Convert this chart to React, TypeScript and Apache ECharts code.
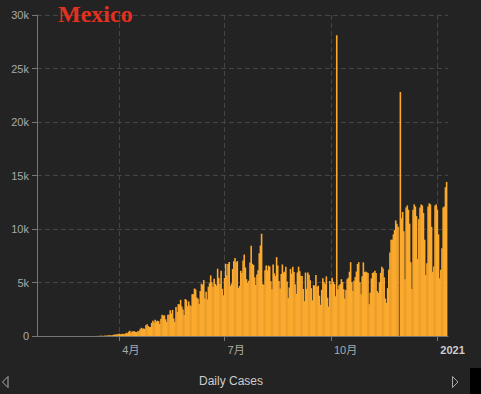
import React, { useEffect, useRef } from 'react';
import * as echarts from 'echarts';

const titleText = 'Mexico';
const seriesName = 'Daily Cases';
const firstDay = [2020, 0, 22];

const jan2020 = [0, 0, 0, 0, 0, 0, 0, 0, 0, 0, 0];
const feb2020 = [0, 0, 0, 0, 0, 0, 0, 0, 0, 0, 0, 0, 0, 0, 0, 0, 0, 0, 0, 0, 0, 0, 0, 0, 0, 0, 0, 1, 3];
const mar2020 = [1, 0, 0, 0, 0, 2, 0, 1, 0, 0, 4, 4, 11, 15, 12, 29, 11, 26, 46, 39, 48, 64, 65, 51, 68, 110, 131, 132, 168, 155, 216];
const apr2020 = [163, 178, 202, 188, 202, 296, 253, 396, 491, 328, 415, 441, 442, 385, 353, 440, 457, 621, 764, 683, 709, 660, 996, 1089, 928, 835, 852, 1223, 1425, 1239];
const may2020 = [1515, 1349, 1434, 1383, 1120, 1609, 1982, 1906, 1938, 1562, 1305, 1997, 1992, 2409, 2112, 2437, 1642, 1305, 2713, 2248, 2973, 2960, 3377, 2764, 2485, 1957, 3455, 3377, 2790, 3227, 2885];
const jun2020 = [2771, 3891, 3912, 4442, 4346, 3593, 3484, 2999, 4199, 4883, 4790, 5222, 3494, 4147, 3427, 4599, 4930, 5662, 5030, 4577, 5343, 4866, 4714, 6288, 5437, 4890, 6104, 4410, 3805, 5432];
const jul2020 = [6741, 5681, 6740, 6914, 4683, 4902, 6258, 6995, 7280, 6891, 7000, 4482, 4685, 6094, 5880, 7051, 7615, 6406, 5311, 4973, 5172, 6859, 8438, 6751, 6637, 5480, 4767, 5752, 6148, 7730, 8458];
const aug2020 = [9556, 4853, 4767, 6148, 6590, 6139, 6590, 6495, 5106, 4376, 6686, 5858, 5618, 7371, 6590, 5132, 4448, 5792, 6686, 5937, 6017, 6482, 5094, 3541, 4540, 6277, 5824, 6482, 5976, 4837, 3948];
const sep2020 = [5937, 6476, 6065, 5622, 5607, 4391, 3256, 5930, 4406, 5935, 5732, 5215, 4474, 3335, 4771, 4683, 5708, 4589, 4700, 3767, 2917, 4317, 5408, 5053, 4851, 5573, 3570, 2751, 5141, 4818];
const oct2020 = [5447, 5068, 4860, 3712, 28115, 4338, 4722, 4850, 5311, 5055, 4376, 3500, 4295, 5306, 5447, 6005, 6900, 5035, 4206, 5172, 5514, 6025, 6731, 6900, 5025, 3900, 5595, 6880, 5975, 6025, 5954];
const nov2020 = [5887, 2977, 4046, 5379, 5901, 5941, 6093, 5887, 4200, 4024, 5027, 5901, 6477, 6310, 5500, 3500, 3100, 4472, 6200, 7800, 9000, 9000, 9500, 9900, 10800, 10500, 10200, 0, 22800, 11000];
const dec2020 = [11600, 9800, 5300, 12000, 12200, 11800, 10500, 6900, 4400, 11800, 12300, 12100, 11200, 7200, 10900, 12000, 12300, 12200, 11500, 9000, 5700, 6800, 12100, 12400, 12300, 10200, 6000, 6500, 12200, 12300, 11800];
const jan2021 = [9500, 5400, 6200, 8200, 12000, 12100, 13900, 14400];

const dailyCases = [
  ...jan2020, ...feb2020, ...mar2020, ...apr2020, ...may2020, ...jun2020,
  ...jul2020, ...aug2020, ...sep2020, ...oct2020, ...nov2020, ...dec2020, ...jan2021,
];

const FONT = '"Liberation Sans", "Noto Sans CJK SC", sans-serif';

export default function App() {
  const ref = useRef<HTMLDivElement>(null);
  useEffect(() => {
    const chart = echarts.init(ref.current!, null, { renderer: 'svg' });
    const data = dailyCases.map((v, i) => [
      new Date(firstDay[0], firstDay[1], firstDay[2] + i).getTime(),
      v,
    ]);
    const xMin = new Date(2020, 0, 21, 12).getTime();
    const xMax = new Date(2021, 0, 9, 12).getTime();
    chart.setOption({
      animation: false,
      backgroundColor: '#232323',
      title: {
        text: titleText,
        left: 58,
        top: 2,
        padding: 0,
        textStyle: {
          color: '#e2321f',
          fontFamily: '"Liberation Serif", serif',
          fontWeight: 'bold',
          fontSize: 24,
        },
      },
      grid: {
        left: 37,
        right: 33,
        top: 15,
        bottom: 58,
        containLabel: false,
        outerBoundsMode: 'none',
      },
      xAxis: {
        type: 'time',
        min: xMin,
        max: xMax,
        minInterval: 100 * 24 * 3600 * 1000,
        axisLine: { show: true, lineStyle: { color: '#777' } },
        axisTick: { show: true, length: 5, lineStyle: { color: '#777' } },
        splitLine: {
          show: true,
          showMinLine: false,
          showMaxLine: false,
          lineStyle: { color: '#444', type: [5, 3] },
        },
        axisLabel: {
          color: '#aaa',
          fontSize: 11,
          fontFamily: FONT,
          showMinLabel: false,
          showMaxLabel: false,
          align: 'left',
          padding: [0, 0, 0, 3],
          formatter: (value: number) => {
            const d = new Date(value);
            if (d.getMonth() === 0 && d.getDate() === 1) {
              return '{y|' + d.getFullYear() + '}';
            }
            return d.getMonth() + 1 + '月';
          },
          rich: {
            y: { color: '#ccc', fontWeight: 'bold', fontSize: 11, fontFamily: FONT },
          },
        },
      },
      yAxis: {
        type: 'value',
        min: 0,
        max: 30000,
        interval: 5000,
        axisLine: { show: true, lineStyle: { color: '#777' } },
        axisTick: { show: true, length: 5, lineStyle: { color: '#777' } },
        splitLine: { show: true, lineStyle: { color: '#444', type: [5, 3] } },
        axisLabel: {
          color: '#aaa',
          fontSize: 11,
          fontFamily: FONT,
          formatter: (v: number) => (v === 0 ? '0' : v / 1000 + 'k'),
        },
      },
      series: [
        {
          name: seriesName,
          type: 'bar',
          data,
          barWidth: 1.6,
          itemStyle: { color: '#fbaa2e' },
        },
      ],
      graphic: [
        {
          type: 'text',
          x: 231,
          y: 381,
          style: {
            text: seriesName,
            fill: '#ccc',
            font: '12px ' + FONT,
            textAlign: 'center',
            textVerticalAlign: 'middle',
          },
        },
        {
          type: 'polygon',
          shape: { points: [[8, 376.5], [2.5, 382], [8, 387.5]] },
          style: { fill: 'none', stroke: '#aaa', lineWidth: 1 },
        },
        {
          type: 'polygon',
          shape: { points: [[452.5, 376.5], [458, 382], [452.5, 387.5]] },
          style: { fill: 'none', stroke: '#aaa', lineWidth: 1 },
        },
        {
          type: 'rect',
          shape: { x: 470, y: 368, width: 11, height: 26 },
          style: { fill: '#000' },
        },
      ],
    });
    return () => chart.dispose();
  }, []);
  return (
    <div
      ref={ref}
      style={{ position: 'fixed', left: 0, top: 0, width: 481, height: 394 }}
    />
  );
}
